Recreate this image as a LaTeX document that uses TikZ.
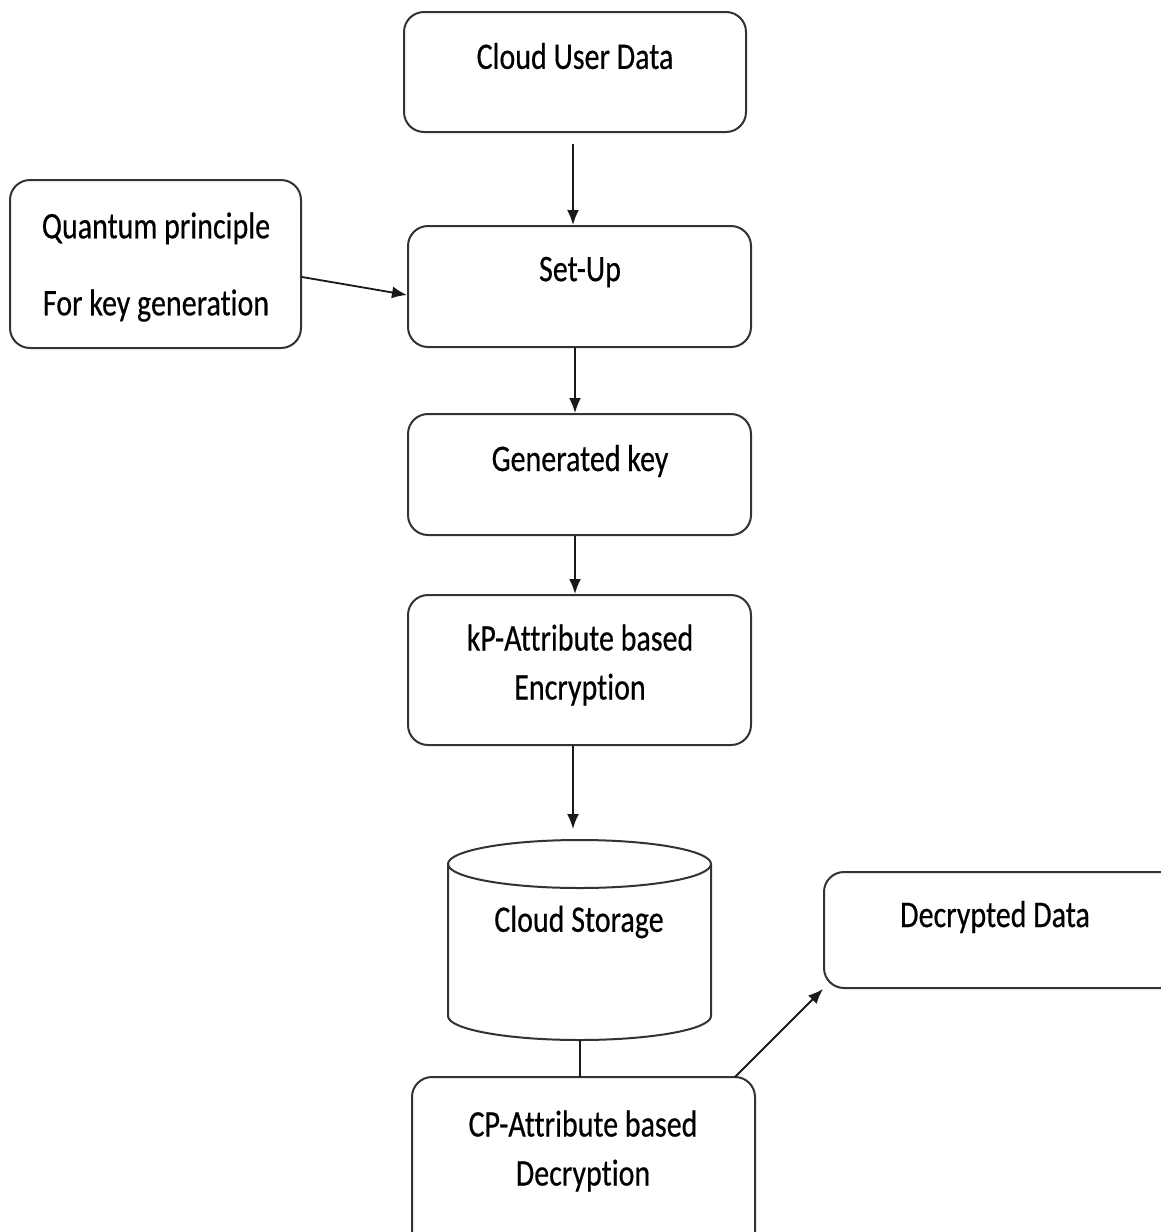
\documentclass[tikz,border=0pt]{standalone}
\usepackage{fontspec}
\usepackage{graphicx}
\setmainfont{Carlito}[Ligatures=NoCommon,FakeBold=0.5,BoldFont=Carlito]
\usetikzlibrary{arrows.meta}
\newcommand{\tall}[1]{\scalebox{1}[1.25]{\bfseries #1}}
\begin{document}
\begin{tikzpicture}[x=1pt,y=-1pt,
  box/.style={draw=black!80,line width=2pt,rounded corners=20pt,fill=white,inner sep=0pt},
  lbl/.style={font=\fontsize{30}{49}\selectfont,align=center,inner sep=0pt,text=black},
  flow/.style={draw=black!90,line width=1.8pt,-{Latex[length=15pt,width=12pt]}},
  link/.style={draw=black!90,line width=1.8pt}]
\useasboundingbox[fill=white] (0,0) rectangle (1160,1232);

% boxes
\node[box,minimum width=342pt,minimum height=120pt] (cud) at (575,72) {};
\node[lbl] (cudt) at (575,56) {\tall{Cloud User Data}};

\node[box,minimum width=343pt,minimum height=121pt] (setup) at (579.5,286.5) {};
\node[lbl] (setupt) at (580,272) {\tall{Set-Up}};

\node[box,minimum width=291pt,minimum height=168pt] (quant) at (155.5,264) {};
\node[lbl,font=\fontsize{30}{77}\selectfont] (quantt) at (156,267) {\tall{Quantum principle}\\\tall{For key generation}};

\node[box,minimum width=343pt,minimum height=121pt] (gen) at (579.5,474.5) {};
\node[lbl] (gent) at (580,461) {\tall{Generated key}};

\node[box,minimum width=343pt,minimum height=150pt] (kp) at (579.5,670) {};
\node[lbl] (kpt) at (580,665) {\tall{kP-Attribute based}\\\tall{Encryption}};

\node[box,minimum width=356pt,minimum height=116pt] (dec) at (1002,930) {};
\node[lbl] (dect) at (995,917) {\tall{Decrypted Data}};

\node[box,minimum width=343pt,minimum height=183pt] (cp) at (583.5,1168.5) {};
\node[lbl] (cpt) at (583,1151) {\tall{CP-Attribute based}\\\tall{Decryption}};

% cloud storage cylinder
\coordinate (stc) at (579.5,864);
\coordinate (sttop) at (579.5,840);
\coordinate (stbot) at (579.5,1040);
\draw[draw=black!80,line width=2pt,fill=white]
  (448,864) -- (448,1016) arc[start angle=180,end angle=360,x radius=131.5,y radius=-24]
  -- (711,864);
\draw[draw=black!80,line width=2pt] (stc) ellipse[x radius=131.5,y radius=24];
\node[lbl] (stt) at (579,922) {\tall{Cloud Storage}};

% connectors
\coordinate (cpin) at (580,1077);
\coordinate (cpout) at (735,1077);
\coordinate (stin) at (573,829);
\path[flow] ([xshift=-2pt,yshift=-11pt]cud.south) -- ([xshift=-6.5pt]setup.north);
\path[flow] ([yshift=-13pt]quant.east) -- ([yshift=-8.5pt]setup.west);
\path[flow] ([xshift=-4.5pt]setup.south) -- ([xshift=-4.5pt]gen.north);
\path[flow] ([xshift=-4.5pt]gen.south) -- ([xshift=-4.5pt]kp.north);
\path[flow] ([xshift=-6.5pt]kp.south) -- (stin);
\path[link] ([xshift=0.5pt]stbot) -- (cpin);
\path[flow] (cpout) -- (dec.south west);
\end{tikzpicture}
\end{document}
